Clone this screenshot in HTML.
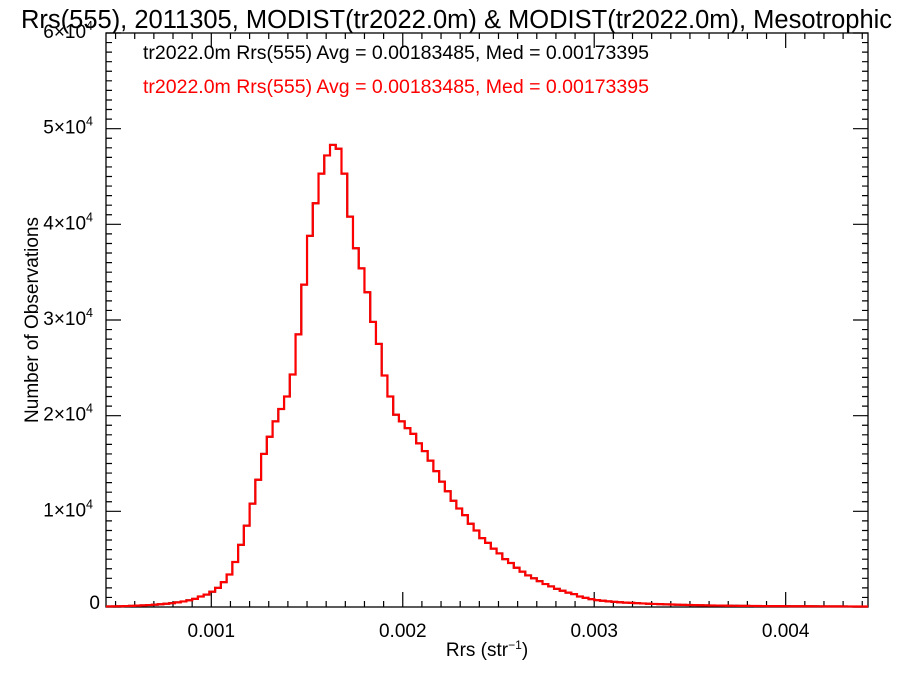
<!DOCTYPE html>
<html><head><meta charset="utf-8"><style>
body{margin:0;background:#fff}
svg{display:block;font-family:"Liberation Sans",sans-serif}
</style></head><body>
<svg id="c" width="900" height="675">
<text x="21" y="28" font-size="25.5">Rrs(555), 2011305, MODIST(tr2022.0m) &amp; MODIST(tr2022.0m), Mesotrophic</text>
<text x="143" y="59" font-size="19.5" fill="#000">tr2022.0m Rrs(555) Avg = 0.00183485, Med = 0.00173395</text>
<text x="143" y="93" font-size="19.5" fill="#f00">tr2022.0m Rrs(555) Avg = 0.00183485, Med = 0.00173395</text>
<text x="487" y="656" font-size="19" text-anchor="middle">Rrs (str<tspan dy="-7" font-size="12">−1</tspan><tspan dy="7">)</tspan></text>
<text transform="translate(38,320) rotate(-90)" font-size="19" text-anchor="middle">Number of Observations</text>
<g id="axes"></g>
<g id="series"></g>
</svg>
<script>
const binStart = 0.00045;
const binWidth = 0.00003;
const counts = [60,70,80,100,120,140,170,200,240,290,340,400,480,580,700,850,
1100,1300,1600,2000,2600,3400,4700,6500,8500,10800,13300,16000,17800,19400,20700,22000,24300,28500,33700,38800,42200,45300,47200,48300,47900,45300,40800,37500,35400,32900,29800,27500,24200,22000,20100,19400,18700,18100,17100,16300,15300,14200,13100,12100,11100,10300,9600,8700,8000,7200,6700,6100,5600,5000,4600,4100,3700,3300,3000,2700,2400,2150,1900,1700,1500,1350,1100,950,820,720,650,590,540,500,460,430,400,370,340,320,300,280,260,240,225,210,195,180,170,160,150,140,130,125,120,115,110,105,100,
95,90,88,85,82,80,78,75,72,70,68,65,62,60,58,55,52,50];
const xTicks = [0.001,0.002,0.003,0.004];
const xTickLabels = ["0.001","0.002","0.003","0.004"];
const yTicks = [0,10000,20000,30000,40000,50000,60000];
const yTickLabels = ["0","1","2","3","4","5","6"];

const L=106,R=868,T=33,B=607, xmin=0.00045,xmax=0.00443,ymax=60000;
const X=v=>L+(v-xmin)/(xmax-xmin)*(R-L);
const Y=v=>B-v/ymax*(B-T);
const NS="http://www.w3.org/2000/svg";
const ax=document.getElementById('axes'), se=document.getElementById('series');
function mk(tag,attrs,parent){const e=document.createElementNS(NS,tag);for(const k in attrs)e.setAttribute(k,attrs[k]);parent.appendChild(e);return e;}
const fr=mk('rect',{x:L,y:T,width:R-L,height:B-T,fill:'none',stroke:'#000','stroke-width':1.3},ax);


let d='';
for(let v=0.0005;v<=xmax+1e-9;v+=0.0001){const x=X(v);const major=xTicks.some(t=>Math.abs(t-v)<1e-8);const len=major?15:6;d+=`M${x},${B}v${-len}M${x},${T}v${len}`;}
for(let v=0;v<=ymax;v+=1000){const y=Y(v);const major=v%10000===0;const len=major?15:6;d+=`M${L},${y}h${len}M${R},${y}h${-len}`;}
const tk=mk('path',{d:d,stroke:'#000','stroke-width':1.2,fill:'none'},ax);


xTicks.forEach((v,i)=>{const t=mk('text',{x:X(v),y:B+30,'font-size':19,'text-anchor':'middle'},ax);t.textContent=xTickLabels[i];

});
yTicks.forEach((v,i)=>{const t=mk('text',{x:L-6,y:Y(v)+2,'font-size':19,'text-anchor':'end'},ax);


if(v===0){t.textContent='0';}else{t.innerHTML=yTickLabels[i]+'×10<tspan dy="-8" font-size="12.5">4</tspan>';t.setAttribute('x',L-13);t.setAttribute('y',Y(v)+5);}});
let p='';
counts.forEach((c,i)=>{const x0=X(binStart+i*binWidth),x1=X(binStart+(i+1)*binWidth),y=Y(c);p+=(i===0?`M${x0},${y}`:`V${y}`)+`H${Math.min(x1,R)}`;});
const b=mk('path',{d:p,stroke:'#000','stroke-width':2,fill:'none'},se);


const r=mk('path',{d:p,stroke:'#f00','stroke-width':2.2,fill:'none'},se);


</script>
</body></html>
